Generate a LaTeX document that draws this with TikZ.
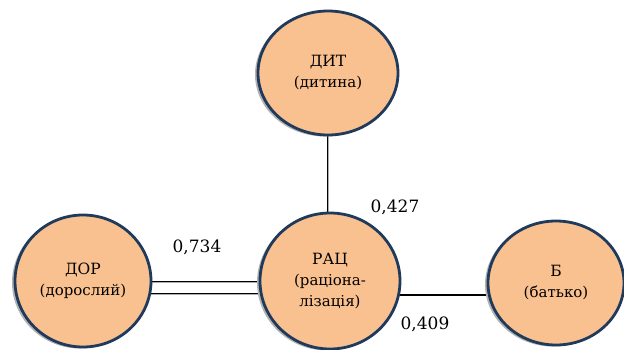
\documentclass[tikz,border=0pt]{standalone}
\usepackage{fontspec}
\setmainfont{DejaVu Serif}
\usetikzlibrary{shapes.geometric,shadows,backgrounds}
\definecolor{rolefill}{HTML}{F9C090}
\definecolor{roleline}{HTML}{203A5C}
\newcommand{\rolesub}[1]{{\fontsize{15}{21}\selectfont #1}}
\tikzset{
  role/.style={ellipse, draw=roleline, line width=2.8pt, fill=rolefill,
    align=center, inner sep=0pt, font=\fontsize{15.5}{21}\selectfont,
    drop shadow={shadow xshift=-3pt, shadow yshift=-1.5pt, fill=gray!60, opacity=1}},
  twin/.style={draw=black, line width=0.9pt, double=gray!65, double distance=1pt},
  solid link/.style={draw=black, line width=1.8pt},
  weight/.style={font=\fontsize{17}{19}\selectfont, inner sep=0pt}
}
\begin{document}
\begin{tikzpicture}[x=1pt, y=-1pt]
  \useasboundingbox (0,0) rectangle (624,350);
  \node[role, minimum width=140pt, minimum height=124pt] (dyt) at (328,73)
    {ДИТ\\\rolesub{(дитина)}};
  \node[role, minimum width=140pt, minimum height=136pt] (rac) at (330,281)
    {РАЦ\\\rolesub{(раціона-}\\\rolesub{лізація)}};
  \node[role, minimum width=136pt, minimum height=132pt] (dor) at (83,281)
    {ДОР\\\rolesub{(дорослий)}};
  \node[role, minimum width=136pt, minimum height=124pt] (bat) at (556,283)
    {Б\\\rolesub{(батько)}};
  % links
  \begin{pgfonlayer}{background}
    \draw[twin] (dyt.center) -- (dyt.center |- rac.center);
    \draw[twin] ([yshift=-1pt]dor.center) -- ([yshift=-1pt]rac.center);
    \draw[twin] ([yshift=-13pt]dor.center) -- ([yshift=-13pt]rac.center);
    \draw[solid link] ([yshift=-14pt]rac.center) -- ([yshift=-12pt]bat.center);
  \end{pgfonlayer}
  \node[weight] (w734) at (197,247) {0,734};
  \node[weight] (w427) at (395,207) {0,427};
  \node[weight] (w409) at (425,324) {0,409};
\end{tikzpicture}
\end{document}
